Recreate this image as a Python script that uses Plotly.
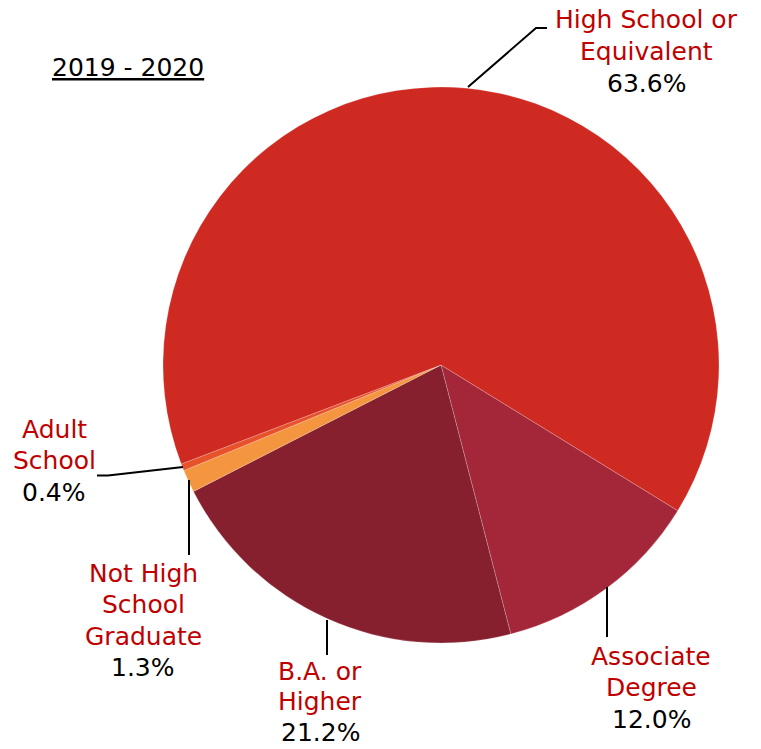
import plotly.graph_objects as go

W, H = 761, 749

categories = ["Associate Degree", "B.A. or Higher", "Not High School Graduate",
              "Adult School", "High School or Equivalent"]
values = [12.0, 21.2, 1.3, 0.4, 63.6]
slice_colors = ["#A42639", "#861F2E", "#F4953F", "#E8522B", "#CF2A22"]
label_lines = [["Associate", "Degree"], ["B.A. or", "Higher"],
               ["Not High", "School", "Graduate"], ["Adult", "School"],
               ["High School or", "Equivalent"]]
title_text = "2019 - 2020"

# layout positions (pixels): label line centre x, first line y, line step
label_pos = [(651, 656, 31.5), (320, 671, 30.5), (143, 573, 31.5),
             (54, 429, 31.5), (646, 20, 31.5)]
leader_paths = [
    [(607, 587), (607, 637)],
    [(327, 620), (327, 655)],
    [(189, 480), (189, 555)],
    [(183, 467), (108, 475.5), (97, 475.5)],
    [(468, 87), (536, 28), (547, 28)],
]

RED = "#C00000"
FONT = "DejaVu Sans"

fig = go.Figure(go.Pie(
    labels=categories, values=values, sort=False, direction="clockwise",
    rotation=121.6, textinfo="none",
    marker=dict(colors=slice_colors, line=dict(color="rgba(255,255,255,0.35)", width=0.6)),
    domain=dict(x=[163 / W, 719 / W], y=[1 - 643 / H, 1 - 87 / H]),
    showlegend=False,
))

def px(x, y):
    return x / W, 1 - y / H

annotations = []
for lines, v, (cx, y0, step) in zip(label_lines, values, label_pos):
    texts = [(t, RED) for t in lines] + [(f"{v:.1f}%", "black")]
    for i, (t, c) in enumerate(texts):
        x, y = px(cx, y0 + i * step)
        annotations.append(dict(x=x, y=y, xref="paper", yref="paper", text=t,
                                showarrow=False, xanchor="center", yanchor="middle",
                                borderpad=0,
                                font=dict(family=FONT, size=25, color=c)))

tx, ty = px(128, 68)
annotations.append(dict(x=tx, y=ty, xref="paper", yref="paper",
                        text=f"<u>{title_text}</u>", showarrow=False,
                        xanchor="center", yanchor="middle", borderpad=0,
                        font=dict(family=FONT, size=25, color="black")))

shapes = []
for path in leader_paths:
    d = "M " + " L ".join(f"{x / W} {1 - y / H}" for x, y in path)
    shapes.append(dict(type="path", path=d, xref="paper", yref="paper",
                       line=dict(color="black", width=2)))

fig.update_layout(width=W, height=H, margin=dict(l=0, r=0, t=0, b=0),
                  paper_bgcolor="white", plot_bgcolor="white",
                  annotations=annotations, shapes=shapes)

fig.write_html("out.html", config={"displayModeBar": False},
               post_script="document.body.style.margin='0';document.body.style.padding='0';")
